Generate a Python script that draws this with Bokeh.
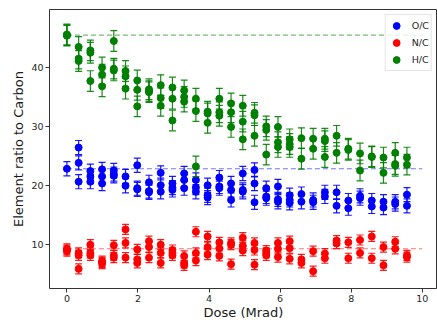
from bokeh.plotting import figure
from bokeh.models import ColumnDataSource, Range1d, Legend, LegendItem, FixedTicker
from bokeh.embed import file_html
from bokeh.resources import INLINE
from bokeh.core.properties import value

# ---------------- data ----------------
DOSES = [0.0, 0.33, 0.66, 0.99, 1.32, 1.65, 1.98, 2.31, 2.64, 2.97,
         3.30, 3.63, 3.96, 4.29, 4.62, 4.95, 5.28, 5.61, 5.94, 6.27,
         6.60, 6.93, 7.26, 7.59, 7.92, 8.25, 8.58, 8.91, 9.24, 9.57]

OC = [[22.8], [26.4, 23.8, 20.6], [22.4, 21.5, 20.6], [22.7, 21.5, 20.3],
      [22.5, 21.9, 21.6], [21.5, 19.9], [23.4, 19.5, 19.3], [20.5, 19.0, 18.8],
      [22.1, 20.0, 18.9], [20.3, 19.6, 19.2], [22.0, 20.9, 19.5], [20.9, 19.6, 18.9],
      [20.0, 18.3, 17.9], [21.3, 19.8, 19.5], [20.3, 19.2, 17.5], [22.0, 19.2, 18.9],
      [22.6, 20.3, 17.1], [19.5, 18.1, 17.8], [19.8, 17.6, 17.2], [18.3, 17.5, 17.0],
      [18.5, 17.2], [17.5, 17.1], [18.8, 18.1], [18.8, 16.5], [17.4, 16.1],
      [18.2, 17.8], [17.4, 16.4], [17.2, 16.2], [17.2, 16.8], [18.4, 16.5]]

NC = [[9.2, 9.0, 8.8], [8.5, 8.1, 5.8], [9.9, 8.5, 8.1], [7.1, 6.9, 6.7],
      [9.8, 8.1, 7.7], [12.5, 10.2, 7.7], [9.1, 7.4, 6.8], [10.5, 9.5, 7.7],
      [9.9, 8.5, 6.8], [9.0, 8.5, 8.1], [8.0, 6.8, 6.4], [12.1, 8.5, 7.2],
      [11.3, 9.5, 8.2], [10.3, 9.3, 8.0], [10.2, 9.9, 6.6], [11.1, 9.7, 8.9],
      [10.2, 9.0, 6.5], [8.9, 8.5, 8.1], [10.2, 9.2, 7.8], [10.5, 9.3, 7.5],
      [7.4, 6.8], [8.8, 5.4], [8.4, 7.6], [10.6, 10.1], [10.3, 7.6],
      [10.7, 8.5], [11.3, 7.6], [9.5, 6.4], [10.4, 9.2], [8.1, 7.8]]

HC = [[45.6, 45.5, 45.4], [43.5, 41.5, 41.1], [42.9, 42.5, 37.7], [40.0, 38.8, 36.8],
      [44.5, 39.8, 39.5], [39.4, 38.5, 36.4], [37.8, 36.2, 33.4], [36.3, 36.0, 35.8],
      [37.0, 34.8, 33.5], [36.6, 34.7, 31.0], [36.1, 35.0, 34.2], [34.7, 32.6, 23.2],
      [32.5, 32.2, 30.6], [34.7, 32.4, 31.8], [33.9, 32.4, 29.9], [33.5, 30.8, 27.8],
      [32.3, 31.9, 28.4], [30.0, 29.4, 25.2], [29.9, 27.3, 26.5], [27.8, 27.0, 26.5],
      [28.0, 24.5], [27.9, 26.2], [27.9, 27.5, 24.8], [28.4, 25.5], [26.2, 26.0],
      [25.4, 22.5], [24.9, 24.8], [24.7, 22.1], [25.5, 23.6, 23.3], [24.7, 23.5]]

OC_ERR = 1.2
NC_ERR = 0.85
HC_ERR = 1.75

OC_REF = 22.8
NC_REF = 9.2
HC_REF = 45.5
REF_X = [0, 10]

SERIES = [("O/C", OC, OC_ERR, OC_REF, "blue"),
          ("N/C", NC, NC_ERR, NC_REF, "red"),
          ("H/C", HC, HC_ERR, HC_REF, "green")]

X_TICKS = [0, 2, 4, 6, 8, 10]
Y_TICKS = [10, 20, 30, 40]

# ---------------- figure ----------------
p = figure(width=437, height=322,
           x_range=Range1d(-0.49, 10.43), y_range=Range1d(2.46, 49.85),
           output_backend="svg", toolbar_location=None,
           min_border_left=49, min_border_top=9, min_border_right=0,
           min_border_bottom=0)

p.background_fill_color = "white"
p.border_fill_color = "white"
p.outline_line_color = "#333333"
p.outline_line_width = 1
p.xgrid.visible = False
p.ygrid.visible = False

for ax in (p.xaxis[0], p.yaxis[0]):
    ax.axis_line_color = None
    ax.major_tick_line_color = "#333333"
    ax.major_tick_out = 4
    ax.major_tick_in = 0
    ax.minor_tick_line_color = None
    ax.major_label_text_font = "DejaVu Sans"
    ax.major_label_text_font_size = "9.5px"
    ax.major_label_text_color = "#262626"
    ax.major_label_text_line_height = 1.0
    ax.axis_label_text_font = "DejaVu Sans"
    ax.axis_label_text_font_size = "13px"
    ax.axis_label_text_font_style = "normal"
    ax.axis_label_text_color = "#1a1a1a"
    ax.axis_label_text_line_height = 1.0

p.xaxis.ticker = FixedTicker(ticks=X_TICKS)
p.yaxis.ticker = FixedTicker(ticks=Y_TICKS)
p.xaxis.major_label_standoff = 2
p.xaxis.axis_label_standoff = 0
p.yaxis.major_label_standoff = 2
p.yaxis.axis_label_standoff = 2
p.xaxis.axis_label = "Dose (Mrad)"
p.yaxis.axis_label = "Element ratio to Carbon"

legend_items = []
for name, groups, err, ref, color in SERIES:
    xs, ys = [], []
    for d, vals in zip(DOSES, groups):
        for v in vals:
            xs.append(d)
            ys.append(v)
    lo = [y - err for y in ys]
    hi = [y + err for y in ys]
    src = ColumnDataSource(dict(x=xs, y=ys, lo=lo, hi=hi))

    p.line(REF_X, [ref, ref], line_color=color, line_dash="5 3",
           line_width=1.1, line_alpha=0.55)
    p.segment(x0="x", y0="lo", x1="x", y1="hi", source=src,
              line_color=color, line_width=1.2, line_alpha=0.9)
    p.scatter("x", "lo", source=src, marker="dash", size=7,
              line_color=color, line_width=1.2, line_alpha=0.9)
    p.scatter("x", "hi", source=src, marker="dash", size=7,
              line_color=color, line_width=1.2, line_alpha=0.9)
    dots = p.scatter("x", "y", source=src, marker="circle", size=7,
                     fill_color=color, line_color=color)
    legend_items.append(LegendItem(label=value(name), renderers=[dots]))

legend = Legend(items=legend_items, location="top_right")
legend.margin = 5
legend.padding = 2
legend.spacing = -2
legend.glyph_width = 17
legend.glyph_height = 17
legend.label_height = 13
legend.label_width = 16
legend.label_standoff = 7
legend.label_text_font = "DejaVu Sans"
legend.label_text_font_size = "9.5px"
legend.label_text_color = "#262626"
legend.border_line_color = "#cccccc"
legend.background_fill_alpha = 0.8
p.add_layout(legend)

open("out.html", "w").write(file_html(p, INLINE))
